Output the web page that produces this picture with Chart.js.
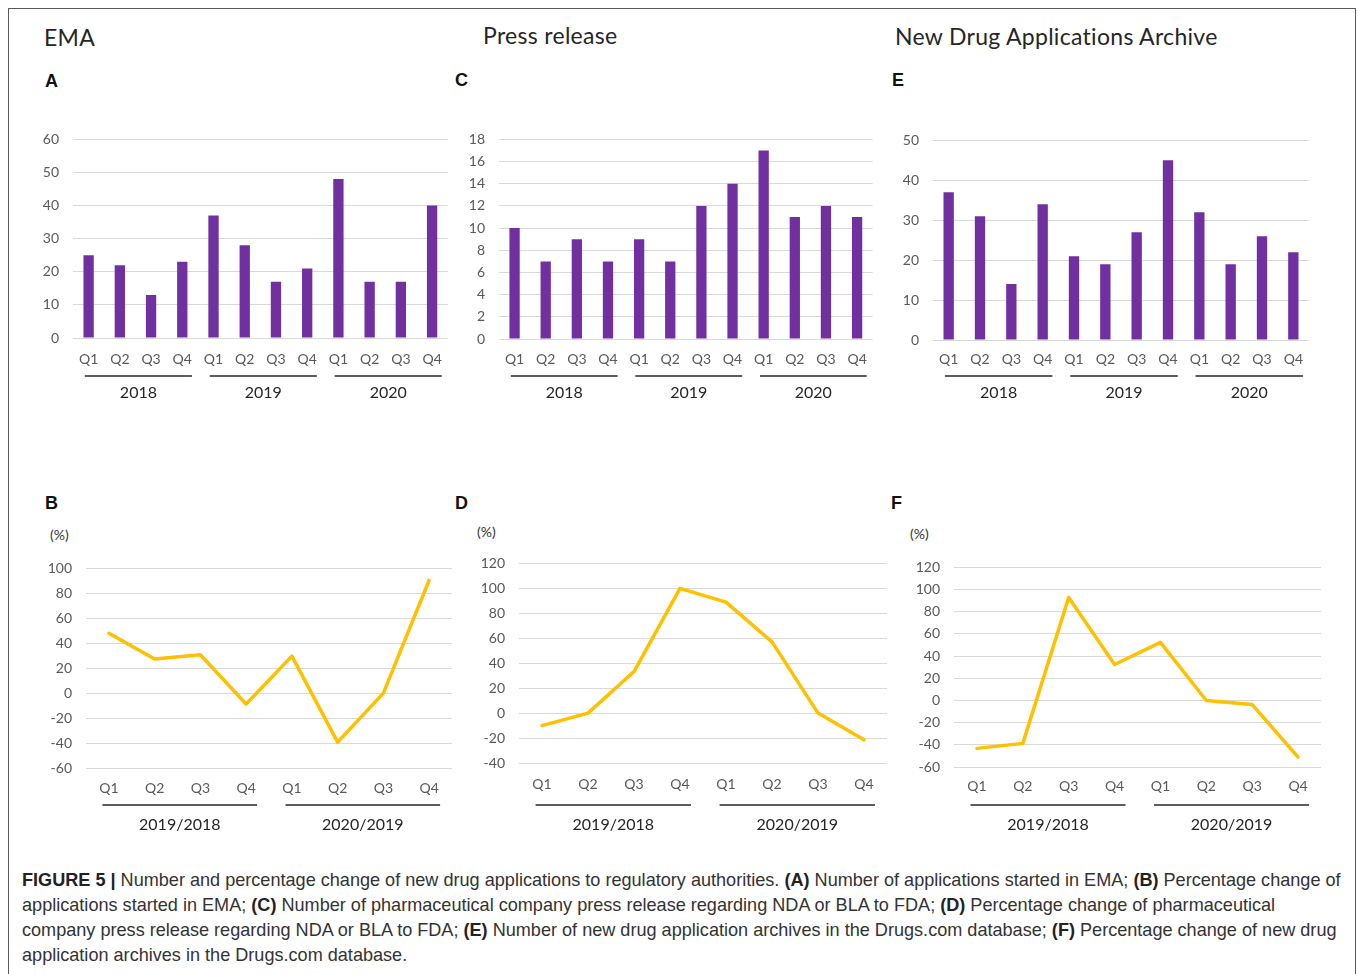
<!DOCTYPE html>
<html>
<head>
<meta charset="utf-8">
<script src="https://cdn.jsdelivr.net/npm/chart.js@4/dist/chart.umd.min.js"></script>
<style>
  html, body { margin: 0; padding: 0; background: #fff; }
  #fig { position: relative; width: 1358px; height: 974px; overflow: hidden; background: #fff; }
  #frame { position: absolute; left: 8px; top: 8px; width: 1348px; height: 1000px; border: 1px solid #5a5a5a; box-sizing: border-box; }
  .title { position: absolute; font-family: Lato, 'Open Sans', sans-serif; font-size: 23px; letter-spacing: 0.3px; line-height: 26px; color: #262626; white-space: nowrap; }
  .letter { position: absolute; font-family: 'Liberation Sans', Arial, sans-serif; font-weight: bold; font-size: 18px; line-height: 20px; color: #111; }
  .unit { position: absolute; font-family: Lato, sans-serif; font-size: 14px; line-height: 16px; color: #333; }
  canvas { position: absolute; }
  #caption { position: absolute; left: 22px; top: 868px; font-family: 'Liberation Sans', Arial, sans-serif; font-size: 18.1px; line-height: 25px; color: #333; white-space: nowrap; }
  #caption b { color: #222; }
</style>
</head>
<body>
<div id="fig">
  <div id="frame"></div>

  <div class="title" style="left:44px; top:24px;">EMA</div>
  <div class="title" style="left:483px; top:22px;">Press release</div>
  <div class="title" style="left:895px; top:23px;">New Drug Applications Archive</div>

  <div class="letter" style="left:45px; top:71px;">A</div>
  <div class="letter" style="left:455px; top:70px;">C</div>
  <div class="letter" style="left:892px; top:70px;">E</div>
  <div class="letter" style="left:45px; top:493px;">B</div>
  <div class="letter" style="left:455px; top:493px;">D</div>
  <div class="letter" style="left:891px; top:493px;">F</div>

  <div class="unit" style="left:50px; top:527px;">(%)</div>
  <div class="unit" style="left:477px; top:524px;">(%)</div>
  <div class="unit" style="left:910px; top:526px;">(%)</div>

  <div id="caption">
    <b>FIGURE 5 |</b> Number and percentage change of new drug applications to regulatory authorities. <b>(A)</b> Number of applications started in EMA; <b>(B)</b> Percentage change of<br>
    applications started in EMA; <b>(C)</b> Number of pharmaceutical company press release regarding NDA or BLA to FDA; <b>(D)</b> Percentage change of pharmaceutical<br>
    company press release regarding NDA or BLA to FDA; <b>(E)</b> Number of new drug application archives in the Drugs.com database; <b>(F)</b> Percentage change of new drug<br>
    application archives in the Drugs.com database.
  </div>
</div>

<script>
// Quarter labels and the year groups they sit under
const quarterLabels = ['Q1', 'Q2', 'Q3', 'Q4'];
const countYears = ['2018', '2019', '2020'];
const changePeriods = ['2019/2018', '2020/2019'];

// Quarterly counts, 2018 Q1 .. 2020 Q4
const emaCounts   = [25, 22, 13, 23, 37, 28, 17, 21, 48, 17, 17, 40];
const pressCounts = [10, 7, 9, 7, 9, 7, 12, 14, 17, 11, 12, 11];
const ndaCounts   = [37, 31, 14, 34, 21, 19, 27, 45, 32, 19, 26, 22];

// Year-over-year percentage change per quarter (%)
const emaChange   = [48.0, 27.3, 30.8, -8.7, 29.7, -39.3, 0.0, 90.5];
const pressChange = [-10.0, 0.0, 33.3, 100.0, 88.9, 57.1, 0.0, -21.4];
const ndaChange   = [-43.2, -38.7, 92.9, 32.4, 52.4, 0.0, -3.7, -51.1];

// Y axis ranges: [min, max, step]
const emaCountAxis   = [0, 60, 10];
const pressCountAxis = [0, 18, 2];
const ndaCountAxis   = [0, 50, 10];
const emaChangeAxis   = [-60, 100, 20];
const pressChangeAxis = [-40, 120, 20];
const ndaChangeAxis   = [-60, 120, 20];

const BAR_COLOR = '#7030A0';
const LINE_COLOR = '#FFC000';
const TICK_COLOR = '#595959';
const GRID_COLOR = '#d9d9d9';

// Draws the underline and group name beneath each run of quarters
const groupAxis = {
  id: 'groupAxis',
  afterDraw(chart, args, opts) {
    const x = chart.scales.x;
    const ctx = chart.ctx;
    const bottom = chart.chartArea.bottom;
    const step = x.getPixelForValue(1) - x.getPixelForValue(0);
    ctx.save();
    opts.groups.forEach((name, g) => {
      const first = g * opts.size;
      const last = first + opts.size - 1;
      const x0 = x.getPixelForValue(first) - step / 2 + opts.inset0 * step;
      const x1 = x.getPixelForValue(last) + step / 2 - opts.inset1 * step;
      ctx.strokeStyle = '#262626';
      ctx.lineWidth = 1.6;
      ctx.beginPath();
      ctx.moveTo(x0, bottom + opts.lineOffset);
      ctx.lineTo(x1, bottom + opts.lineOffset);
      ctx.stroke();
      ctx.fillStyle = '#262626';
      ctx.font = '16px Lato, sans-serif';
      ctx.textAlign = 'center';
      ctx.textBaseline = 'middle';
      ctx.fillText(name, (x0 + x1) / 2, bottom + opts.labelOffset);
    });
    ctx.restore();
  }
};

const Y_W = 50, PAD_TOP = 12, PAD_R = 6, X_H = 75;

function makeChart(area, type, groups, values, axis, style) {
  const canvas = document.createElement('canvas');
  const w = area.r - area.l + Y_W + PAD_R;
  const h = area.b - area.t + PAD_TOP + X_H;
  canvas.width = w;
  canvas.height = h;
  canvas.style.left = (area.l - Y_W) + 'px';
  canvas.style.top = (area.t - PAD_TOP) + 'px';
  canvas.style.width = w + 'px';
  canvas.style.height = h + 'px';
  document.getElementById('fig').appendChild(canvas);

  const labels = [];
  groups.forEach(() => quarterLabels.forEach(q => labels.push(q)));

  const dataset = type === 'bar'
    ? { data: values, backgroundColor: BAR_COLOR, borderWidth: 0, barPercentage: 0.33, categoryPercentage: 1 }
    : { data: values, borderColor: LINE_COLOR, borderWidth: 3.5, pointRadius: 0, tension: 0, fill: false, borderJoinStyle: 'round', borderCapStyle: 'round' };

  const chart = new Chart(canvas, {
    type: type,
    data: { labels: labels, datasets: [dataset] },
    plugins: [groupAxis],
    options: {
      responsive: false,
      maintainAspectRatio: false,
      animation: false,
      events: [],
      layout: { padding: { top: PAD_TOP, right: PAD_R, left: 0, bottom: 0 } },
      plugins: {
        legend: { display: false },
        tooltip: { enabled: false },
        groupAxis: {
          groups: groups, size: quarterLabels.length,
          lineOffset: style.lineOffset, labelOffset: style.labelOffset,
          inset0: style.inset0, inset1: style.inset1
        }
      },
      scales: {
        x: {
          offset: true,
          grid: { display: false, drawTicks: false },
          border: { display: false },
          ticks: { padding: style.qPad, color: TICK_COLOR, font: { family: 'Lato', size: 14 }, maxRotation: 0, autoSkip: false },
          afterFit: s => { s.height = X_H; }
        },
        y: {
          min: axis[0], max: axis[1],
          grid: { color: GRID_COLOR, lineWidth: 1, drawTicks: false },
          border: { display: false },
          ticks: { stepSize: axis[2], padding: style.yPad, color: TICK_COLOR, font: { family: 'Lato', size: 14 } },
          afterFit: s => { s.width = Y_W; }
        }
      }
    }
  });

  // The layout may reserve extra room above the plot for the top tick label;
  // grow the canvas upward so the plot area keeps its intended height.
  const extra = Math.round(chart.chartArea.top - PAD_TOP);
  if (extra !== 0) {
    const h2 = h + extra;
    canvas.style.top = (area.t - PAD_TOP - extra) + 'px';
    chart.resize(w, h2);
  }
  return chart;
}

const barStyle = (q, line, label) => ({ qPad: q, lineOffset: line, labelOffset: label, inset0: 0.38, inset1: 0.19, yPad: 14 });
const lineStyle = (q, line, label) => ({ qPad: q, lineOffset: line, labelOffset: label, inset0: 0.36, inset1: 0.26, yPad: 14 });

makeChart({ l: 73, t: 139, r: 449, b: 338 }, 'bar', countYears, emaCounts, emaCountAxis, barStyle(13, 38, 55));
makeChart({ l: 499, t: 139, r: 873, b: 339 }, 'bar', countYears, pressCounts, pressCountAxis, barStyle(12, 37, 54));
makeChart({ l: 933, t: 140, r: 1309, b: 340 }, 'bar', countYears, ndaCounts, ndaCountAxis, barStyle(11, 36, 53));

makeChart({ l: 86, t: 568, r: 452, b: 768 }, 'line', changePeriods, emaChange, emaChangeAxis, lineStyle(12, 37, 57));
makeChart({ l: 519, t: 563, r: 887, b: 763 }, 'line', changePeriods, pressChange, pressChangeAxis, lineStyle(13, 42, 62));
makeChart({ l: 954, t: 567, r: 1321, b: 767 }, 'line', changePeriods, ndaChange, ndaChangeAxis, lineStyle(11, 38, 58));
</script>
</body>
</html>
